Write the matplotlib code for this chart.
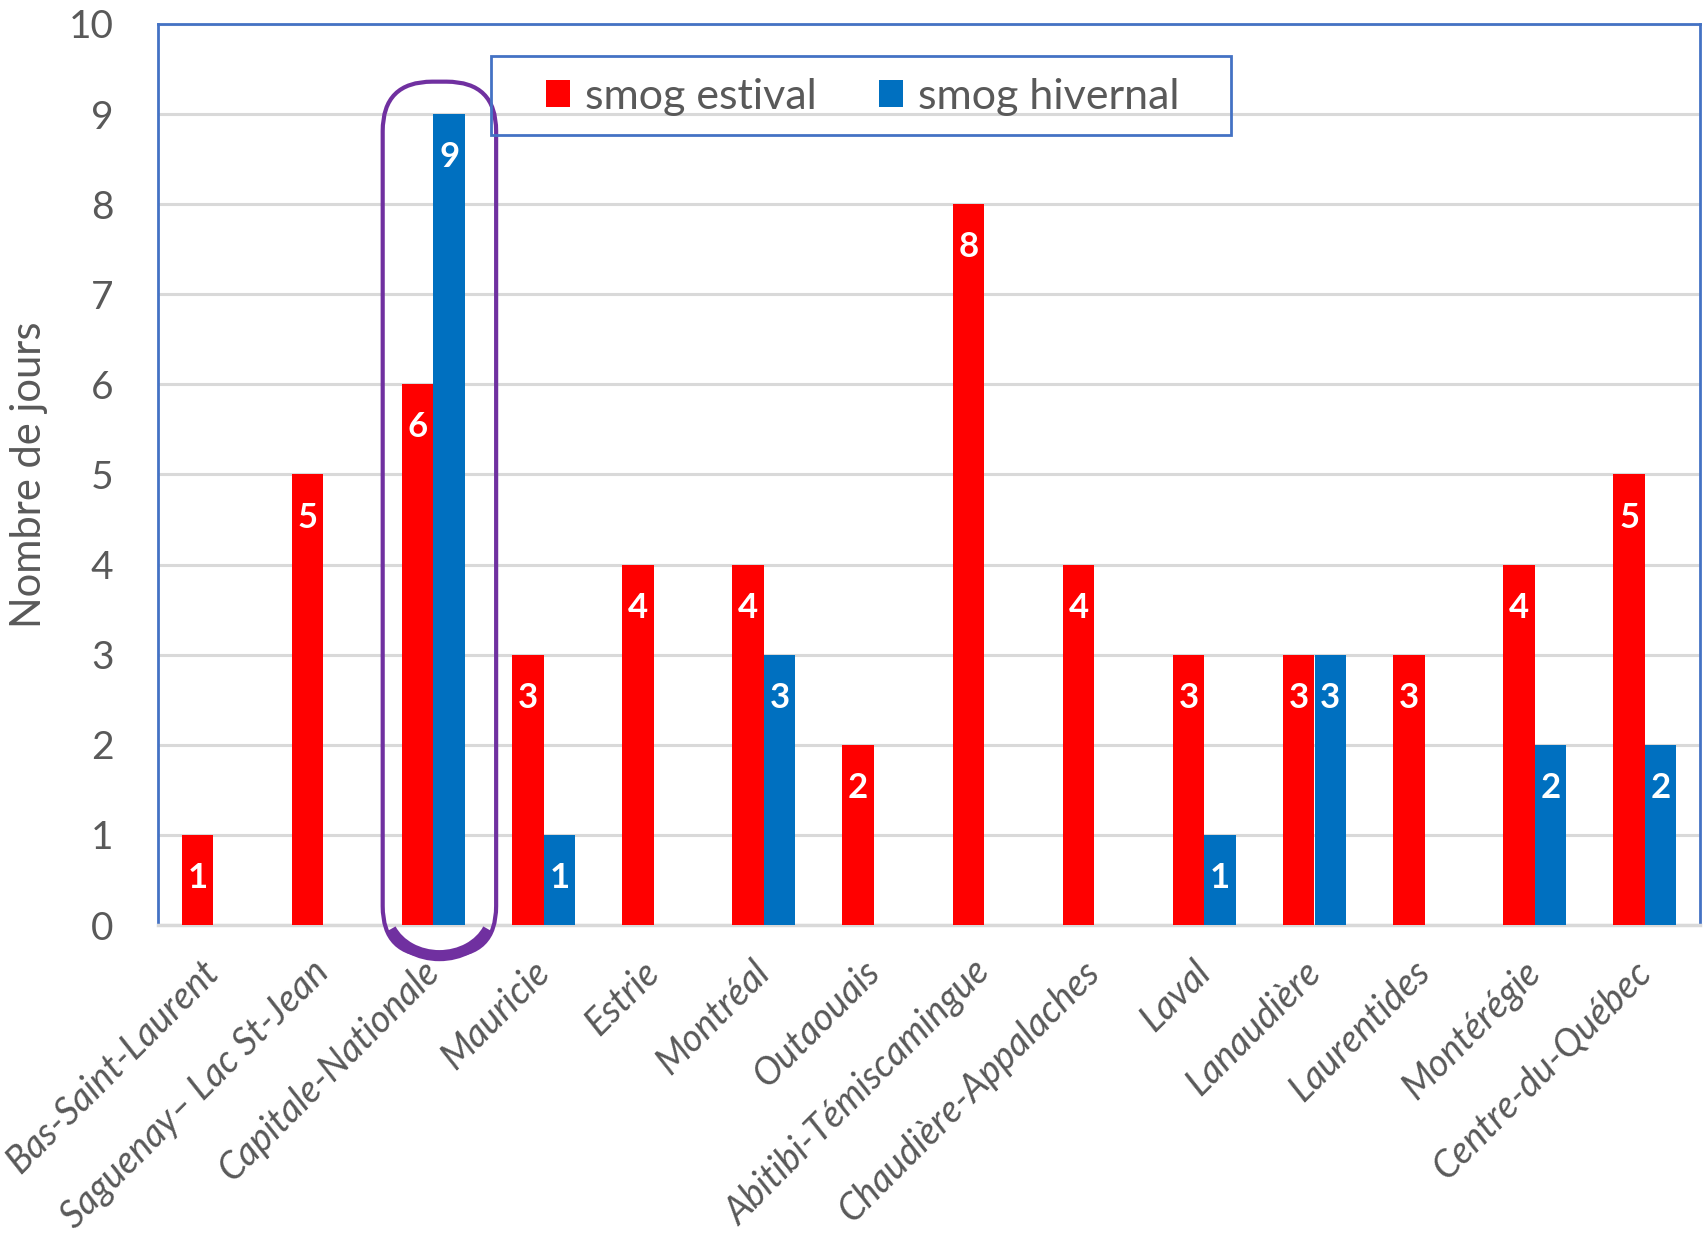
import numpy as np
import matplotlib.pyplot as plt
from matplotlib.patches import FancyBboxPatch, Rectangle, Arc

# Nombre de jours de smog par region
regions = ["Bas-Saint-Laurent", "Saguenay\u2013 Lac St-Jean", "Capitale-Nationale",
           "Mauricie", "Estrie", "Montr\u00e9al", "Outaouais",
           "Abitibi-T\u00e9miscamingue", "Chaudi\u00e8re-Appalaches", "Laval",
           "Lanaudi\u00e8re", "Laurentides", "Mont\u00e9r\u00e9gie", "Centre-du-Qu\u00e9bec"]
estival = [1, 5, 6, 3, 4, 4, 2, 8, 4, 3, 3, 3, 4, 5]
hivernal = [0, 0, 9, 1, 0, 3, 0, 0, 0, 1, 3, 0, 2, 2]
yticks = list(range(0, 11))

rouge = "#FF0000"
bleu = "#0070C0"
cadre = "#4472C4"
gris = "#595959"
violet = "#7030A0"

plt.rcParams['font.family'] = ['Lato', 'DejaVu Sans']

fig = plt.figure(figsize=(17.03, 12.39), dpi=100)
ax = fig.add_axes([158/1703, 1-925/1239, 1542/1703, 901/1239])

x = np.arange(len(regions))
w = 0.286
b1 = ax.bar(x - w/2, estival, w, color=rouge, label="smog estival", zorder=3)
b2 = ax.bar(x + w/2, hivernal, w, color=bleu, label="smog hivernal", zorder=3)

# etiquettes blanches dans les barres
for bars, vals in ((b1, estival), (b2, hivernal)):
    for r, v in zip(bars, vals):
        if v == 0:
            continue
        ax.annotate(str(v), (r.get_x() + r.get_width()/2, v), xytext=(0, -31),
                    textcoords="offset points", ha="center", va="center",
                    color="white", fontsize=25, fontweight="bold", zorder=4)

ax.set_xlim(-0.5, len(regions) - 0.5)
ax.set_ylim(0, 10)
ax.set_yticks(yticks)
ax.yaxis.grid(True, color="#D9D9D9", linewidth=2.2, zorder=0)
ax.set_axisbelow(True)
ax.tick_params(axis="y", length=0, pad=32, labelsize=28, labelcolor=gris)
ax.tick_params(axis="x", length=0, pad=30)
ax.set_xticks(x)
ax.set_xticklabels(regions, rotation=45, ha="right", va="center",
                   rotation_mode="anchor", fontsize=27, color=gris, style="italic")

for s in ("left", "top", "right"):
    ax.spines[s].set_color(cadre)
    ax.spines[s].set_linewidth(2)
ax.spines["bottom"].set_color("#D9D9D9")
ax.spines["bottom"].set_linewidth(2.5)

ax.set_ylabel("Nombre de jours", fontsize=30, color=gris)
ax.yaxis.set_label_coords(-110/1542, 0.5)

# legende : cadre dessine a part
fig.patches.append(Rectangle((491/1703, 1-135/1239), 740/1703, 79/1239,
                             transform=fig.transFigure, fill=False,
                             edgecolor=cadre, linewidth=2))
leg = ax.legend(loc="center left", ncol=2,
                bbox_to_anchor=(546/1703, 1-97/1239),
                bbox_transform=fig.transFigure, fontsize=31,
                frameon=False, handlelength=0.55, handleheight=0.6,
                handletextpad=0.35, columnspacing=1.45,
                borderpad=0, borderaxespad=0)
for t in leg.get_texts():
    t.set_color(gris)

# encadre violet autour de Capitale-Nationale
x0, x1 = 1.54, 2.57
y0, y1 = -0.34, 9.36
box = FancyBboxPatch((x0, y0), x1 - x0, y1 - y0,
                     boxstyle="round,pad=0,rounding_size=0.45",
                     mutation_aspect=1.22,
                     fill=False, edgecolor=violet, linewidth=3,
                     clip_on=False, zorder=5)
ax.add_patch(box)
ax.add_patch(Arc(((x0 + x1)/2, y0 + 0.5), x1 - x0 - 0.06, 1.0, theta1=205, theta2=335,
                 edgecolor=violet, linewidth=8, clip_on=False, zorder=5))

fig.savefig("out.png", dpi=100)
